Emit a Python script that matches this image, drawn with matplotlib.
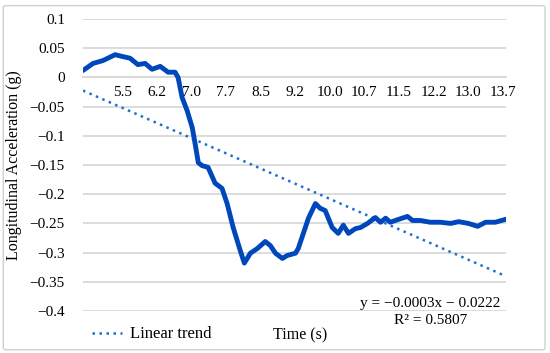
import matplotlib
matplotlib.use("Agg")
import matplotlib.pyplot as plt
from matplotlib.patches import FancyBboxPatch
import numpy as np

plt.rcParams['font.family'] = ['Liberation Serif', 'DejaVu Serif']

# longitudinal acceleration trace
time_s = [4.66, 4.875, 5.09, 5.35, 5.50, 5.67, 5.84, 5.995, 6.145, 6.32, 6.49, 6.64,
          6.705, 6.79, 6.90, 7.01, 7.07, 7.14, 7.22, 7.35, 7.50, 7.65, 7.76, 7.89,
          8.04, 8.13, 8.26, 8.41, 8.58, 8.69, 8.80, 8.95, 9.05, 9.23, 9.29, 9.40,
          9.51, 9.66, 9.76, 9.87, 10.02, 10.15, 10.26, 10.37, 10.52, 10.63, 10.78,
          10.95, 11.06, 11.17, 11.27, 11.45, 11.64, 11.75, 11.92, 12.13, 12.35,
          12.57, 12.74, 12.95, 13.15, 13.32, 13.53, 13.75]
accel_g = [0.012, 0.024, 0.029, 0.039, 0.036, 0.033, 0.022, 0.024, 0.014, 0.019, 0.009, 0.009,
           0.0, -0.034, -0.057, -0.086, -0.113, -0.146, -0.151, -0.154, -0.181, -0.19, -0.216, -0.257,
           -0.296, -0.318, -0.301, -0.293, -0.281, -0.288, -0.301, -0.31, -0.305, -0.301, -0.293, -0.267,
           -0.241, -0.216, -0.224, -0.228, -0.257, -0.267, -0.253, -0.267, -0.259, -0.257, -0.25,
           -0.24, -0.248, -0.241, -0.248, -0.243, -0.238, -0.245, -0.245, -0.248, -0.248,
           -0.25, -0.247, -0.25, -0.255, -0.248, -0.248, -0.243]

tick_pos = [5.5 + 0.745 * k for k in range(12)]
tick_lbl = ['5.5', '6.2', '7.0', '7.7', '8.5', '9.2', '10.0', '10.7', '11.5', '12.2', '13.0', '13.7']

# trend from the chart's equation (x = sample index)
slope, intercept = -0.0003, -0.0222
n_samples = 1060
t0, t1 = 4.66, 13.76
dt = (t1 - t0) / n_samples

fig = plt.figure(figsize=(5.5, 3.53), dpi=100)
frame = FancyBboxPatch((0.006, 0.009), 0.985, 0.975, boxstyle="round,pad=0,rounding_size=0.005",
                       transform=fig.transFigure, fc='white', ec='#d0d0d0', lw=1, zorder=-10)
fig.patches.append(frame)
ax = fig.add_axes([0.151, 0.119, 0.769, 0.827])
ax.patch.set_alpha(0)

ax.set_ylim(-0.4, 0.1)
ax.set_xlim(t0, t1)
ax.set_yticks(np.arange(-0.4, 0.1001, 0.05))
ax.set_yticklabels(['\u22120.4', '\u22120.35', '\u22120.3', '\u22120.25', '\u22120.2', '\u22120.15',
                    '\u22120.1', '\u22120.05', '0', '0.05', '0.1'])
ax.grid(axis='y', color='#d9d9d9', lw=1.3)
ax.set_axisbelow(True)
for s in ['top', 'right', 'left']:
    ax.spines[s].set_visible(False)
ax.spines['bottom'].set_position(('data', 0))
ax.spines['bottom'].set_color('#d9d9d9')
ax.spines['bottom'].set_linewidth(1.3)
ax.set_xticks(tick_pos)
ax.set_xticklabels(tick_lbl)
ax.tick_params(axis='both', length=0, labelsize=11)
ax.tick_params(axis='y', pad=13)
ax.tick_params(axis='x', pad=6)

ax.plot(time_s, accel_g, color='#0047BB', lw=3.5, solid_joinstyle='round', solid_capstyle='round', zorder=3)

tt = np.array([t0, t1])
trend = slope * ((tt - t0) / dt + 1) + intercept
ax.plot(tt, trend, color='#1F6FD0', lw=1.8, ls=(0, (1, 1.8)), zorder=2)

ax.text(12.13, -0.402, 'y = \u22120.0003x \u2212 0.0222\nR\u00b2 = 0.5807', ha='center', va='center',
        fontsize=11, linespacing=1.35)

fig.text(0.025, 0.532, 'Longitudinal Acceleration (g)', rotation=90, ha='center', va='center', fontsize=11.5)
fig.text(0.545, 0.051, 'Time (s)', ha='center', va='center', fontsize=11.5)
fig.lines.append(plt.Line2D([0.168, 0.222], [0.057, 0.057], transform=fig.transFigure,
                            color='#1F6FD0', lw=1.8, ls=(0, (1, 1.8))))
fig.text(0.236, 0.055, 'Linear trend', ha='left', va='center', fontsize=12)

fig.savefig('out.png', dpi=100)
